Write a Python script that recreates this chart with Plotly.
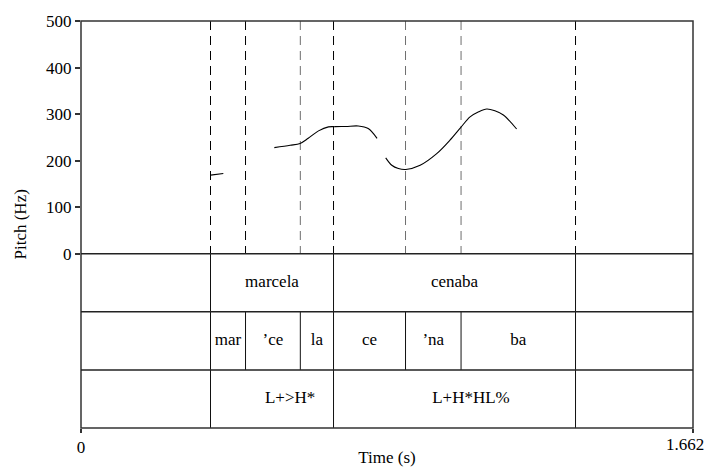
import plotly.graph_objects as go

# ---------------- data ----------------
x_max = 1.662
x_tick_labels = ["0", "1.662"]
pitch_ticks = [0, 100, 200, 300, 400, 500]

# pitch contour segments (time s, Hz)
seg1_t = [0.352, 0.3865]
seg1_f = [169, 172.5]
seg2_t = [0.525, 0.568, 0.595, 0.617, 0.645, 0.672, 0.690, 0.720, 0.753, 0.780, 0.804]
seg2_f = [228, 233, 237, 248, 264, 272.5, 273, 273.5, 274.5, 269, 248]
seg3_t = [0.8275, 0.844, 0.862, 0.882, 0.921, 0.966, 1.002, 1.031, 1.0565, 1.080, 1.102, 1.124, 1.147, 1.183]
seg3_f = [206, 190, 183, 181, 190, 215, 244, 271, 294, 305, 311, 307, 298, 268]

# TextGrid tiers
word_bounds = [0.3517, 0.6858, 1.3430]
word_labels = ["marcela", "cenaba"]
syl_bounds = [0.3517, 0.4468, 0.5956, 0.6858, 0.8813, 1.0321, 1.3430]
syl_labels = ["mar", "\u2019ce", "la", "ce", "\u2019na", "ba"]
tone_bounds = [0.3517, 0.6858, 1.3430]
tone_labels = ["L+>H*", "L+H*HL%"]
tone_label_t = [0.568, 1.059]

# boundaries drawn dashed over the pitch panel
dash_bounds_dark = [0.3517, 0.4468, 0.6858, 1.3430]
dash_bounds_light = [0.5956, 0.8813, 1.0321]

# ---------------- figure ----------------
FONT = "Liberation Serif, Times New Roman, serif"
FS = 17
# page body has an 8px margin: figure placed at (8, 8)
W, H = 698, 459
L, R, T, B = 73, 13, 13, 39
plot_h = H - T - B
split = (420 - 245.75) / plot_h

fig = go.Figure()

def vlines(xs, y0, y1):
    xx, yy = [], []
    for b in xs:
        xx += [b, b, None]
        yy += [y0, y1, None]
    return xx, yy

# dashed boundaries in pitch area (drawn top-down so dashes start at the top)
for xs, col in [(dash_bounds_dark, "#000000"), (dash_bounds_light, "#6e6e6e")]:
    xx, yy = vlines(xs, 500, 0)
    fig.add_trace(go.Scatter(x=xx, y=yy, mode="lines", xaxis="x", yaxis="y",
                             line=dict(color=col, width=1, dash="9px,6px"),
                             hoverinfo="skip", showlegend=False))

# pitch contour
for tt, ff in [(seg1_t, seg1_f), (seg2_t, seg2_f), (seg3_t, seg3_f)]:
    fig.add_trace(go.Scatter(x=tt, y=ff, mode="lines", xaxis="x", yaxis="y",
                             line=dict(color="black", width=1.1, shape="spline", smoothing=0.9),
                             hoverinfo="skip", showlegend=False))

# tier rows: word (2-3), syllable (1-2), tone (0-1)
tiers = [
    (word_bounds, 2, 3),
    (syl_bounds, 1, 2),
    (tone_bounds, 0, 1),
]
for bounds, y0, y1 in tiers:
    xx, yy = vlines(bounds, y0, y1)
    fig.add_trace(go.Scatter(x=xx, y=yy, mode="lines", xaxis="x", yaxis="y2",
                             line=dict(color="#111111", width=1),
                             hoverinfo="skip", showlegend=False))

def mids(bounds):
    return [(bounds[i] + bounds[i + 1]) / 2 for i in range(len(bounds) - 1)]

text_sets = [
    (mids(word_bounds), word_labels, 2.5),
    (mids(syl_bounds), syl_labels, 1.5),
    (tone_label_t, tone_labels, 0.5),
]
for xs, labels, yrow in text_sets:
    fig.add_trace(go.Scatter(x=xs, y=[yrow] * len(xs), text=labels, mode="text",
                             xaxis="x", yaxis="y2", textposition="middle center",
                             textfont=dict(family=FONT, size=FS, color="black"),
                             hoverinfo="skip", showlegend=False))

shapes = [
    dict(type="rect", xref="paper", yref="paper", x0=0, x1=1, y0=0, y1=1,
         line=dict(color="#333333", width=1.5), layer="above"),
]
for yv in [1, 2, 3]:
    shapes.append(dict(type="line", xref="paper", yref="paper", x0=0, x1=1,
                       y0=split * yv / 3, y1=split * yv / 3,
                       line=dict(color="#222222", width=1.5), layer="above"))

annotations = [
    dict(text="Pitch (Hz)", xref="paper", yref="paper", x=0, y=0.5,
         xshift=-(L - 12), xanchor="center", yanchor="middle",
         textangle=-90, showarrow=False,
         font=dict(family=FONT, size=FS, color="black")),
    # right-end time label, kept inside the figure edge
    dict(text=x_tick_labels[1], xref="x", yref="paper", x=x_max, y=0,
         xanchor="right", yanchor="top", xshift=R, yshift=-5, showarrow=False,
         font=dict(family=FONT, size=FS, color="black")),
]

fig.update_layout(
    width=W, height=H,
    margin=dict(l=L, r=R, t=T, b=B, pad=0, autoexpand=False),
    paper_bgcolor="white", plot_bgcolor="white",
    font=dict(family=FONT, size=FS, color="black"),
    showlegend=False,
    shapes=shapes,
    annotations=annotations,
    xaxis=dict(range=[0, x_max], anchor="y2", showgrid=False, zeroline=False,
               automargin=False, ticklabeloverflow="allow",
               showline=False, ticks="outside", ticklen=4, tickcolor="#333333",
               tickwidth=1.5, tickvals=[0, x_max], ticktext=[x_tick_labels[0], ""],
               tickfont=dict(family=FONT, size=FS, color="black"),
               title=dict(text="Time (s)", standoff=14,
                          font=dict(family=FONT, size=FS, color="black"))),
    yaxis=dict(range=[0, 500], domain=[split, 1], anchor="x", showgrid=False,
               automargin=False,
               zeroline=False, showline=False, ticks="outside", ticklen=5,
               tickwidth=1.5, tickcolor="#333333", tickvals=pitch_ticks,
               tickfont=dict(family=FONT, size=FS, color="black")),
    yaxis2=dict(range=[0, 3], domain=[0, split], anchor="x", showgrid=False,
                automargin=False,
                zeroline=False, showline=False, showticklabels=False, ticks=""),
)

fig.write_html("out.html")
